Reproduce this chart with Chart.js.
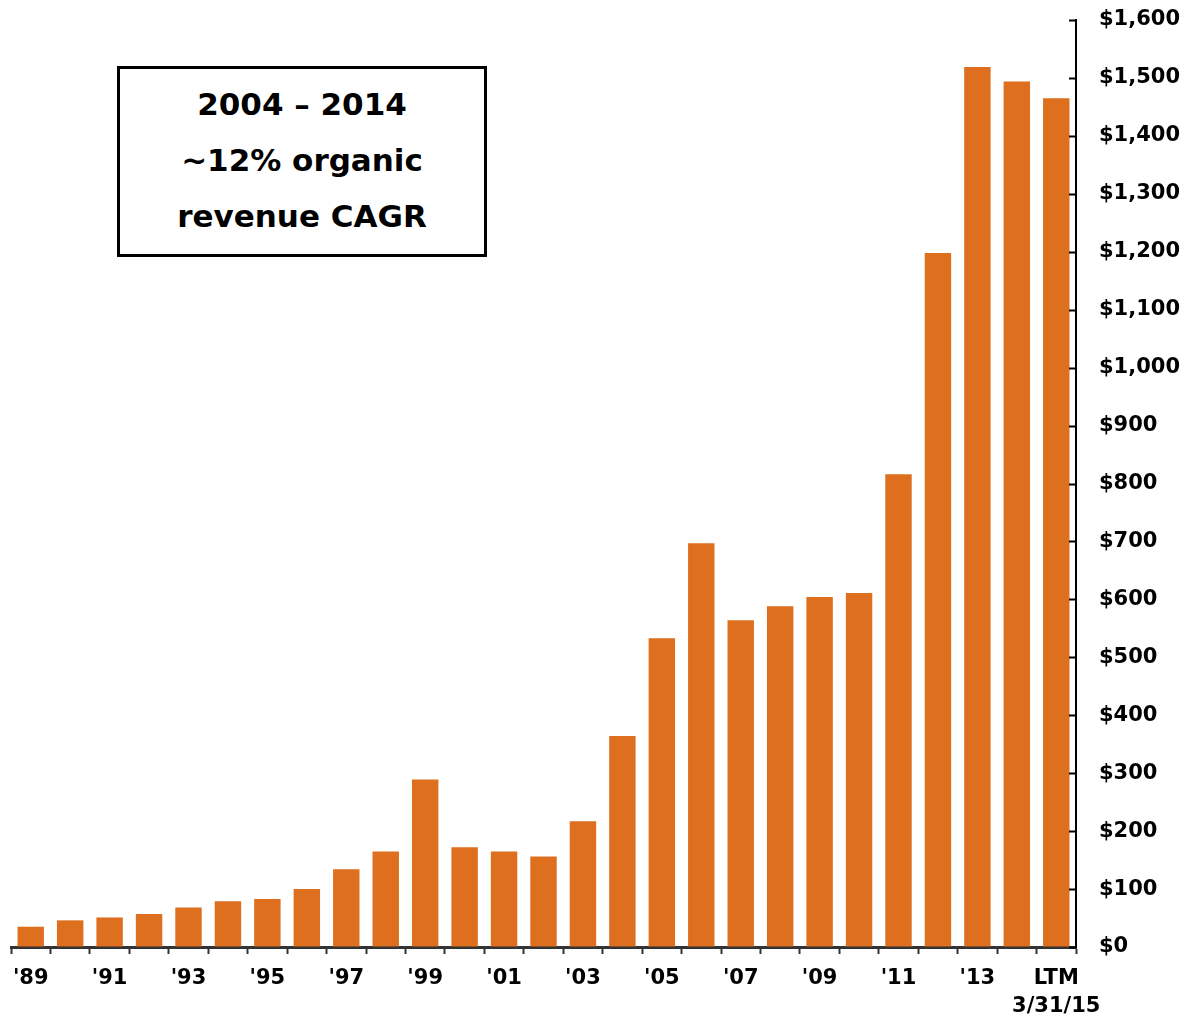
<!DOCTYPE html>
<html>
<head>
<meta charset="utf-8">
<script src="https://cdn.jsdelivr.net/npm/chart.js@4"></script>
<style>
    html, body { margin: 0; padding: 0; background: #fff; }
    #wrap { position: relative; width: 1182px; height: 1021px; }
    #note {
        position: absolute; left: 117px; top: 66px; width: 364px; height: 181px;
        padding-bottom: 4px;
        border: 3px solid #000; background: #fff;
        font-family: "DejaVu Sans", sans-serif; font-weight: bold;
        font-size: 31px; line-height: 56px; text-align: center;
        display: flex; flex-direction: column; justify-content: center;
    }
</style>
</head>
<body>
<div id="wrap">
    <canvas id="myChart" width="1182" height="1021"></canvas>
    <div id="note"><div>2004 – 2014</div><div>~12% organic</div><div>revenue CAGR</div></div>
</div>
<script>
// categories and revenue ($M)
const years = ["'89", "'90", "'91", "'92", "'93", "'94", "'95", "'96", "'97", "'98", "'99",
    "'00", "'01", "'02", "'03", "'04", "'05", "'06", "'07", "'08", "'09", "'10",
    "'11", "'12", "'13", "'14", ["LTM", "3/31/15"]];
const revenue = [35, 46, 51, 57, 68, 79, 83, 100, 134, 165, 289,
    172, 165, 156, 217, 364, 533, 697, 564, 588, 604, 611,
    816, 1198, 1519, 1494, 1465];
const yMax = 1600;
const yStep = 100;

const font = { family: "'DejaVu Sans', sans-serif", weight: "bold", size: 21, lineHeight: 1.35 };

// y axis ticks point inward (to the left) in the original
const innerTicks = {
    id: "innerTicks",
    afterDraw(chart) {
        const y = chart.scales.y;
        const ctx = chart.ctx;
        ctx.save();
        ctx.strokeStyle = "#000";
        ctx.lineWidth = 2;
        y.ticks.forEach(t => {
            const py = Math.round(y.getPixelForValue(t.value)) + 0.5;
            ctx.beginPath();
            ctx.moveTo(y.left - 7, py);
            ctx.lineTo(y.left, py);
            ctx.stroke();
        });
        ctx.restore();
    }
};

const ctx = document.getElementById("myChart").getContext("2d");
new Chart(ctx, {
    type: "bar",
    data: {
        labels: years,
        datasets: [{
            data: revenue,
            backgroundColor: "#DE6F1F",
            borderWidth: 0,
            categoryPercentage: 1,
            barPercentage: 0.67
        }]
    },
    options: {
        responsive: false,
        animation: false,
        layout: { padding: { left: 11, top: 20, right: 0, bottom: 0 } },
        plugins: { legend: { display: false }, tooltip: { enabled: false } },
        scales: {
            x: {
                grid: {
                    offset: true,
                    drawOnChartArea: false,
                    tickLength: 7,
                    tickWidth: 2,
                    tickColor: "#333"
                },
                border: { color: "#333", width: 3 },
                ticks: {
                    autoSkip: false,
                    maxRotation: 0,
                    padding: 10,
                    color: "#000",
                    font: font,
                    callback: function (value, index) {
                        return (index % 2 === 0 || index === years.length - 1) ? this.getLabelForValue(value) : "";
                    }
                },
                afterFit(scale) { scale.height = 74; }
            },
            y: {
                position: "right",
                min: 0,
                max: yMax,
                grid: { drawOnChartArea: false, drawTicks: false },
                border: { color: "#000", width: 2 },
                ticks: {
                    stepSize: yStep,
                    padding: 23,
                    color: "#000",
                    font: { family: font.family, weight: "bold", size: 21 },
                    callback: v => "$" + v.toLocaleString("en-US")
                },
                afterFit(scale) {
                    scale.width = 106;
                    scale.paddingTop = 0;
                    scale.paddingBottom = 0;
                }
            }
        }
    },
    plugins: [innerTicks]
});
</script>
</body>
</html>
